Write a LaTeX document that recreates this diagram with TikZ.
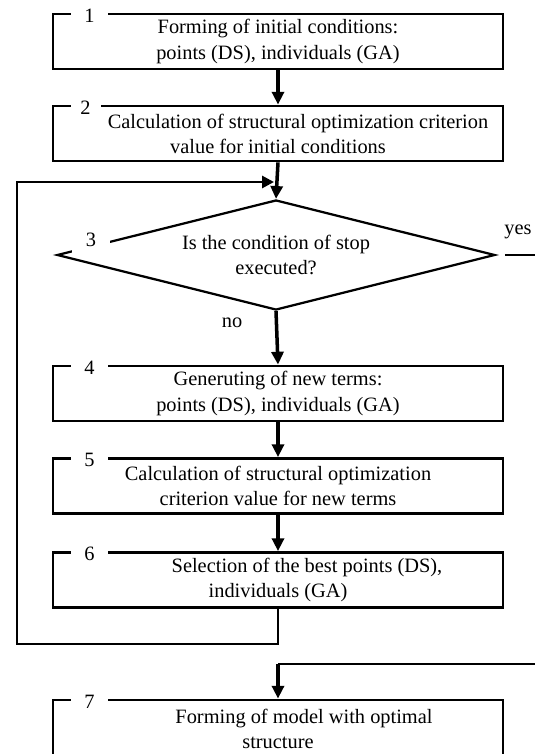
\documentclass[tikz,border=0pt]{standalone}
\usepackage{fontspec}
\setmainfont{Liberation Serif}
\usepackage{tikz}
\usetikzlibrary{shapes.geometric}
\usetikzlibrary{arrows.meta}

\begin{document}
\begin{tikzpicture}[
		mybox/.style={draw, minimum width=11.25cm, minimum height=1.375cm, line width=2pt, align=center, font=\fontsize{14.5}{17.8}\selectfont},
		mynum/.style={fill=white, minimum width=0.925cm, inner sep=0pt, font=\fontsize{14.5}{17.8}\selectfont},
		mytext/.style={font=\fontsize{14.5}{17.8}\selectfont},
		myarrow/.style={-{Triangle[length=0.32cm,width=0.3cm]}, line width=2.5pt},
		myline/.style={line width=2pt}
	]
	\useasboundingbox (0,0) rectangle (13.35,-18.85);

	\node[mybox] (box1) at (6.95,-1.0375) {Forming of initial conditions:\\points (DS), individuals (GA)};
	\node[mybox] (box2) at (6.95,-3.3375) {\hspace*{1cm}Calculation of structural optimization criterion\\value for initial conditions};
	\node[draw, diamond, aspect=4, inner sep=0pt, minimum width=10.95cm, minimum height=2.75cm, line width=1.6pt, align=center, mytext] (cond) at (6.9,-6.375) {Is the condition of stop\\executed?};
	\node[mybox] (box4) at (6.95,-9.8375) {Generuting of new terms:\\points (DS), individuals (GA)};
	\node[mybox] (box5) at (6.95,-12.15) {Calculation of structural optimization\\criterion value for new terms};
	\node[mybox] (box6) at (6.95,-14.5) {\hspace*{1.45cm}Selection of the best points (DS),\\individuals (GA)};
	\node[mybox, minimum height=1.45cm] (box7) at (6.95,-18.225) {\hspace*{1.3cm}Forming of model with optimal\\structure};

	\node[mynum] (num1) at ([xshift=0.95cm, yshift=-0.08cm]box1.north west) {1};
	\node[mynum, minimum width=0.75cm] (num2) at ([xshift=0.85cm, yshift=-0.08cm]box2.north west) {2};
	\node[mynum, minimum width=0.95cm, minimum height=0.65cm] (num3) at (2.275,-6.0) {3};
	\node[mynum] (num4) at ([xshift=0.95cm, yshift=-0.08cm]box4.north west) {4};
	\node[mynum] (num5) at ([xshift=0.95cm, yshift=-0.08cm]box5.north west) {5};
	\node[mynum] (num6) at ([xshift=0.95cm, yshift=-0.08cm]box6.north west) {6};
	\node[mynum] (num7) at ([xshift=0.95cm, yshift=-0.08cm]box7.north west) {7};

	\node[mytext] (lblyes) at (12.95,-5.8) {yes};
	\node[mytext] (lblno) at (5.8,-8.075) {no};

	\coordinate (loopbl) at (0.425,-16.1);
	\coordinate (loopin) at (6.85,-4.55);
	\coordinate (yesout) at (13.6,-6.375);
	\coordinate (endin) at (13.6,-16.6);
	\coordinate (endturn) at (6.95,-16.6);

	\draw[myarrow] (box1) -- (box2);
	\draw[myarrow] (box2.south) -- (cond.north);
	\draw[myarrow] (cond.south) -- (box4.north);
	\draw[myarrow] (box4) -- (box5);
	\draw[myarrow] (box5) -- (box6);
	\draw[myline, -{Triangle[length=0.3cm,width=0.3cm]}] (box6.south) |- (loopbl) |- (loopin);
	\draw[line width=1.5pt, shorten <=0.22cm] (cond.east) -- (yesout);
	\draw[line width=1.5pt] (endin) -- (endturn);
	\draw[myarrow] (endturn) -- (box7);

\end{tikzpicture}
\end{document}
